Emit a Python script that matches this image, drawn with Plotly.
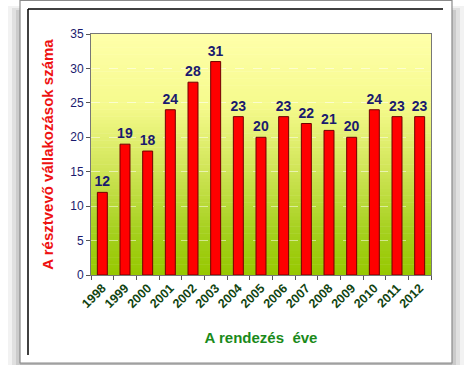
import plotly.graph_objects as go

years = ["1998", "1999", "2000", "2001", "2002", "2003", "2004", "2005",
         "2006", "2007", "2008", "2009", "2010", "2011", "2012"]
counts = [12, 19, 18, 24, 28, 31, 23, 20, 23, 22, 21, 20, 24, 23, 23]
y_ticks = [0, 5, 10, 15, 20, 25, 30, 35]

W, H = 471, 365
ML, MR, MT, MB = 91, 40, 34, 90
PW, PH = W - ML - MR, H - MT - MB


def px(x):
    return (x - ML) / PW


def py(y):
    return (H - MB - y) / PH


shapes = []
# soft shadow behind the frame
for inset, alpha in [(4, 0.05), (8, 0.07), (12, 0.09), (16, 0.10)]:
    shapes.append(dict(type="rect", xref="paper", yref="paper", layer="below",
                       x0=px(20 - 16 + inset), x1=px(452 + 16 - inset),
                       y0=py(4 + inset / 2), y1=py(365),
                       line=dict(width=0), fillcolor=f"rgba(0,0,0,{alpha})"))
# frame
shapes.append(dict(type="rect", xref="paper", yref="paper", layer="below",
                   x0=px(20), x1=px(452), y0=py(0.5), y1=py(363),
                   line=dict(color="#8a8a8a", width=1.2), fillcolor="white"))
# black inner lines (top & left)
shapes.append(dict(type="line", xref="paper", yref="paper", layer="below",
                   x0=px(28), x1=px(443), y0=py(9), y1=py(9),
                   line=dict(color="black", width=1.5)))
shapes.append(dict(type="line", xref="paper", yref="paper", layer="below",
                   x0=px(28), x1=px(28), y0=py(9), y1=py(355),
                   line=dict(color="black", width=1.5)))

# gradient plot background: yellow (top) -> yellow-green (bottom)
stops = [(0.0, (150, 200, 0)), (0.18, (165, 208, 30)), (0.45, (210, 230, 90)),
         (0.7, (245, 250, 140)), (1.0, (255, 255, 170))]


def grad(t):
    for (t0, c0), (t1, c1) in zip(stops[:-1], stops[1:]):
        if t0 <= t <= t1:
            f = (t - t0) / (t1 - t0)
            return tuple(round(c0[k] + (c1[k] - c0[k]) * f) for k in range(3))
    return stops[-1][1]


N = 70
for i in range(N):
    c = grad((i + 0.5) / N)
    shapes.append(dict(type="rect", xref="paper", yref="paper", layer="below",
                       x0=0, x1=1, y0=i / N, y1=(i + 1) / N + 0.002,
                       line=dict(width=0), fillcolor=f"rgb{c}"))

fig = go.Figure(go.Bar(
    x=years, y=counts,
    marker=dict(color="#FF0000", line=dict(color="#700000", width=1)),
    text=[str(v) for v in counts], textposition="outside", cliponaxis=False,
    constraintext="none",
    textfont=dict(family="Liberation Sans, Arial", size=14, color="#1a1a6e"),
    texttemplate="<b>%{text}</b>",
))

fig.update_layout(
    width=W, height=H,
    margin=dict(l=ML, r=MR, t=MT, b=MB),
    paper_bgcolor="white", plot_bgcolor="rgba(0,0,0,0)",
    bargap=0.56, showlegend=False, shapes=shapes,
    font=dict(family="Liberation Sans, Arial"),
)
fig.update_xaxes(
    type="category", tickangle=-45, tickson="boundaries",
    ticks="outside", ticklen=4, tickcolor="#555",
    tickfont=dict(size=12.5, color="#114411", family="Liberation Sans, Arial"),
    tickprefix="<b>", ticksuffix="</b>",
    showline=True, linecolor="#777", mirror=True, showgrid=False,
    title=dict(text="<b>A rendezés  éve</b>", standoff=22,
               font=dict(size=15, color="#1a8a1a")),
)
fig.update_yaxes(
    range=[0, 35], tickvals=y_ticks, ticks="outside", ticklen=4, tickcolor="#555",
    tickfont=dict(size=12, color="#1a1a6e", family="Liberation Sans, Arial"),
    tickprefix="<b>", ticksuffix="</b>",
    showline=True, linecolor="#777", mirror=True,
    showgrid=True, gridcolor="rgba(255,255,255,0.5)", griddash="dash", gridwidth=1,
    zeroline=False,
    title=dict(text="<b>A résztvevő vállakozások száma</b>", standoff=12,
               font=dict(size=15, color="#ee1111")),
)

fig.write_html("out.html", config={"displayModeBar": False},
               post_script="document.body.style.margin='0';document.body.style.padding='0';")
